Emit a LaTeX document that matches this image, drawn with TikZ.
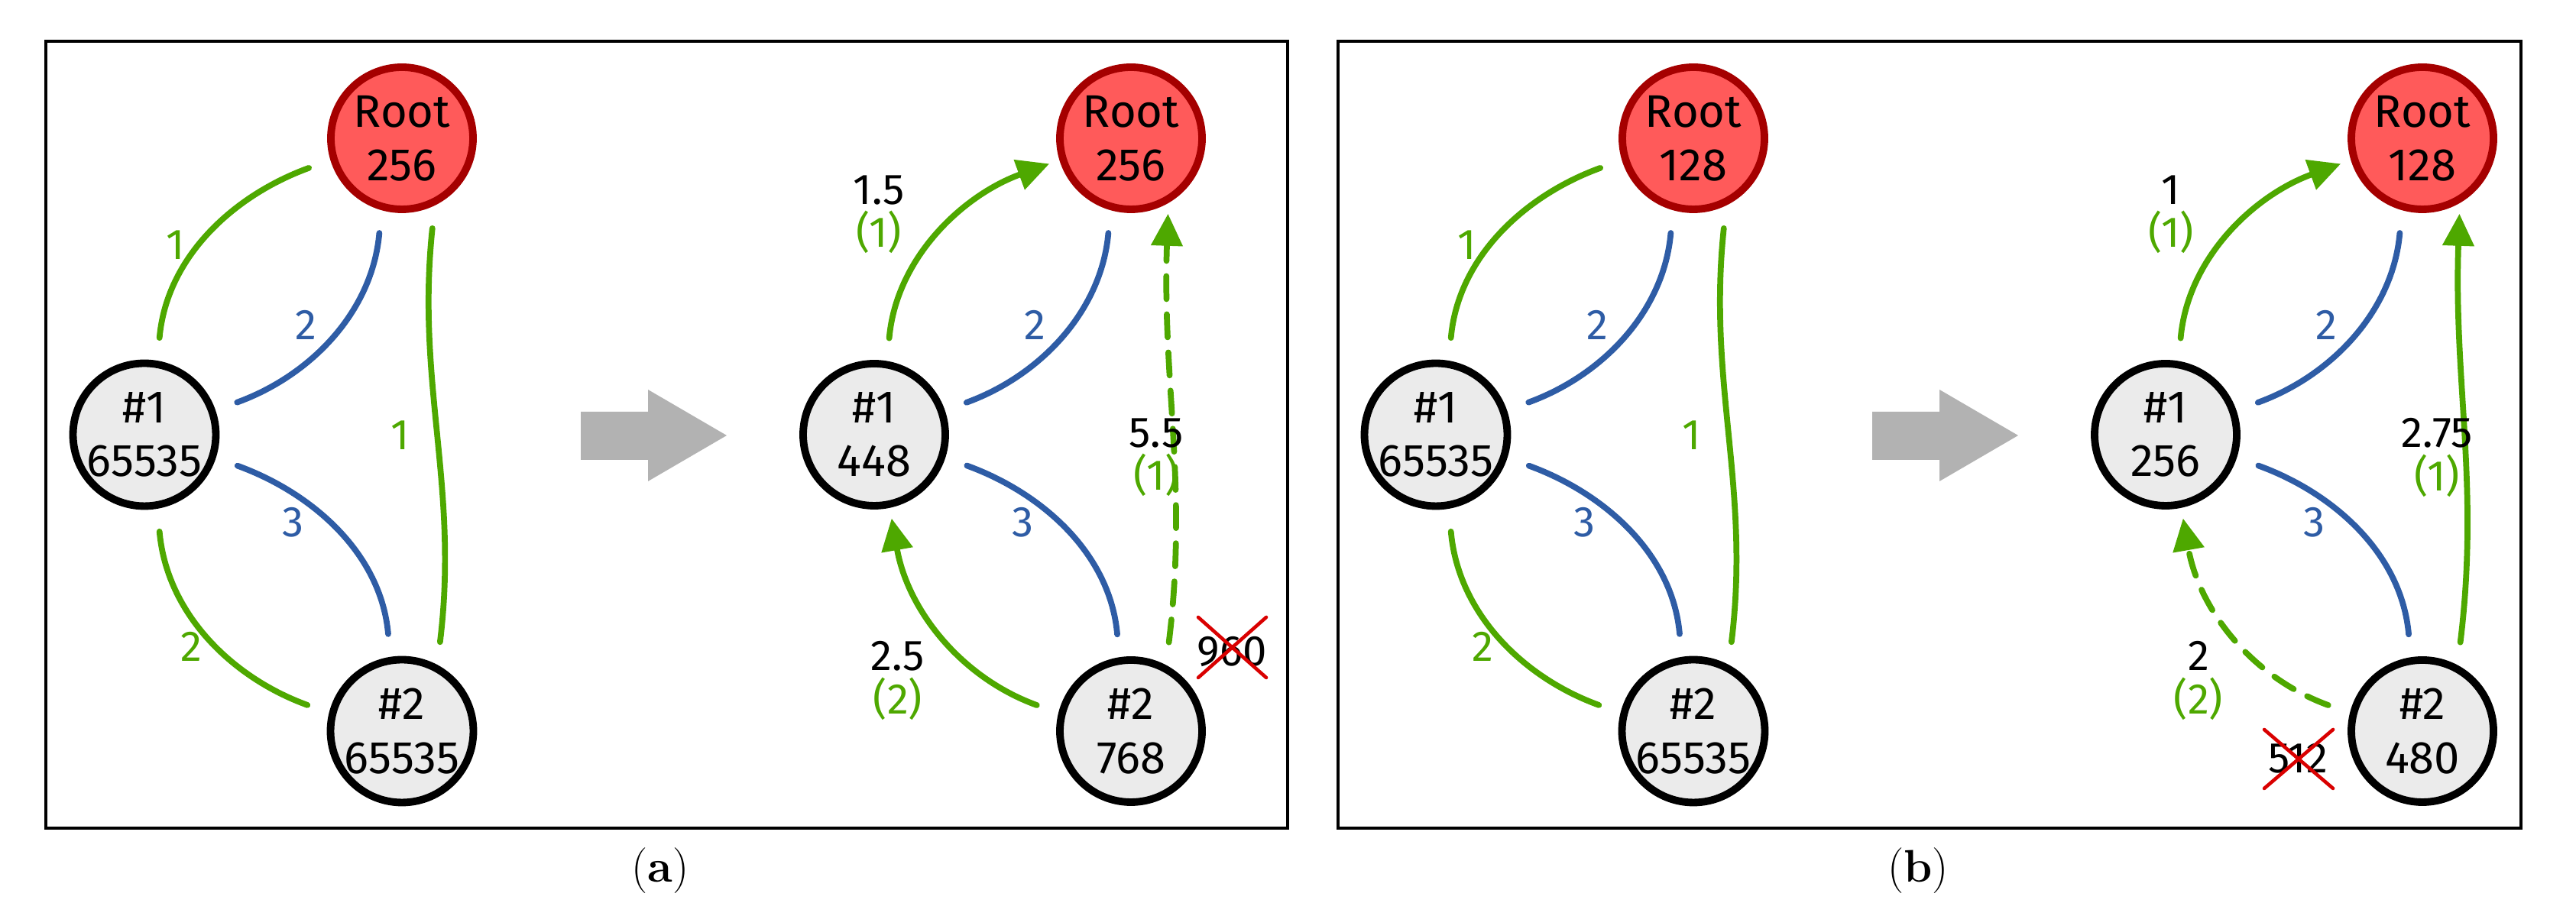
\documentclass[tikz,border=0pt]{standalone}
\usepackage{fontspec}
\setmainfont{Fira Sans}
\newfontfamily\capfont{Latin Modern Roman}
\usetikzlibrary{arrows.meta}
\definecolor{edgegreen}{HTML}{4EA800}
\definecolor{edgeblue}{HTML}{2E5CA5}
\definecolor{rootfill}{HTML}{FF5A5A}
\definecolor{rootdraw}{HTML}{A50000}
\definecolor{nodefill}{HTML}{EBEBEB}
\tikzset{
	peer/.style={circle, draw=black, fill=nodefill, line width=2.8pt, minimum size=1.86cm, inner sep=0pt, align=center, font=\fontsize{17}{20}\selectfont},
	root/.style={peer, draw=rootdraw, fill=rootfill},
	link/.style={line width=2.2pt, line cap=round, shorten <=0.3cm, shorten >=0.3cm},
	glink/.style={link, edgegreen},
	blink/.style={link, edgeblue},
	win/.style={glink, shorten >=0.14cm, -{Triangle[length=0.42cm,width=0.4cm]}},
	probe/.style={dash pattern=on 0.3cm off 0.2cm},
	lab/.style={font=\fontsize{16}{19}\selectfont, align=center},
	cross/.style={red!85!black, line width=1.3pt, line cap=round}
}
\begin{document}
\begin{tikzpicture}
	\useasboundingbox (0,0) rectangle (33.71,11.99);
	% panel (a)
	\draw[line width=1pt] (0.60,1.15) rectangle (16.85,11.45);
	\node[root] (rootA) at (5.26,10.18) {Root\\256};
	\node[peer] (oneA) at (1.89,6.30) {\#1\\65535};
	\node[peer] (twoA) at (5.26,2.42) {\#2\\65535};
	\draw[glink] (oneA.80) to[out=85,in=200] node[lab, text=edgegreen, pos=0.45, left=2pt] {1} (rootA.197);
	\draw[blink] (oneA.19) to[out=20,in=265] node[lab, text=edgeblue, pos=0.55, left=4pt] {2} (rootA.254);
	\draw[blink] (oneA.-18) to[out=-20,in=95] node[lab, text=edgeblue, pos=0.45, left=4pt] {3} (twoA.99);
	\draw[glink] (oneA.-80) to[out=-85,in=160] node[lab, text=edgegreen, pos=0.55, left=2pt] {2} (twoA.166);
	\draw[glink] (twoA.62) to[out=83,in=-96] node[lab, text=edgegreen, pos=0.5, left=6pt] {1} (rootA.-64);
	\fill[black!30] (7.60,5.97) -- (8.48,5.97) -- (8.48,5.69) -- (9.51,6.29) -- (8.48,6.89) -- (8.48,6.60) -- (7.60,6.60) -- cycle;
	\node[root] (rootB) at (14.80,10.18) {Root\\256};
	\node[peer] (oneB) at (11.44,6.30) {\#1\\448};
	\node[peer] (twoB) at (14.80,2.42) {\#2\\768};
	\draw[win] (oneB.80) to[out=85,in=200] (rootB.197);
	\node[lab] (costA) at (11.50,9.18) {1.5\\[-3pt]\textcolor{edgegreen}{(1)}};
	\draw[blink] (oneB.19) to[out=20,in=265] node[lab, text=edgeblue, pos=0.55, left=4pt] {2} (rootB.254);
	\draw[blink] (oneB.-18) to[out=-20,in=95] node[lab, text=edgeblue, pos=0.45, left=4pt] {3} (twoB.99);
	\draw[win] (twoB.166) to[out=160,in=-80] (oneB.-78);
	\node[lab] (costB) at (11.75,3.08) {2.5\\[-3pt]\textcolor{edgegreen}{(2)}};
	\draw[win, probe] (twoB.62) to[out=83,in=-92] (rootB.-60);
	\node[lab] (costC) at (15.13,6.00) {5.5\\[-3pt]\textcolor{edgegreen}{(1)}};
	\node[lab] (oldA) at (16.12,3.46) {960};
	\draw[cross] (15.68,3.91) -- (16.57,3.12) (15.68,3.12) -- (16.57,3.91);
	\node[font=\capfont\fontsize{17}{20}\selectfont] (capA) at (8.64,0.59) {(\textbf{a})};
	% panel (b)
	\draw[line width=1pt] (17.51,1.15) rectangle (32.99,11.45);
	\node[root] (rootC) at (22.16,10.18) {Root\\128};
	\node[peer] (oneC) at (18.79,6.30) {\#1\\65535};
	\node[peer] (twoC) at (22.16,2.42) {\#2\\65535};
	\draw[glink] (oneC.80) to[out=85,in=200] node[lab, text=edgegreen, pos=0.45, left=2pt] {1} (rootC.197);
	\draw[blink] (oneC.19) to[out=20,in=265] node[lab, text=edgeblue, pos=0.55, left=4pt] {2} (rootC.254);
	\draw[blink] (oneC.-18) to[out=-20,in=95] node[lab, text=edgeblue, pos=0.45, left=4pt] {3} (twoC.99);
	\draw[glink] (oneC.-80) to[out=-85,in=160] node[lab, text=edgegreen, pos=0.55, left=2pt] {2} (twoC.166);
	\draw[glink] (twoC.62) to[out=83,in=-96] node[lab, text=edgegreen, pos=0.5, left=6pt] {1} (rootC.-64);
	\fill[black!30] (24.50,5.97) -- (25.38,5.97) -- (25.38,5.69) -- (26.41,6.29) -- (25.38,6.89) -- (25.38,6.60) -- (24.50,6.60) -- cycle;
	\node[root] (rootD) at (31.70,10.18) {Root\\128};
	\node[peer] (oneD) at (28.34,6.30) {\#1\\256};
	\node[peer] (twoD) at (31.70,2.42) {\#2\\480};
	\draw[win] (oneD.80) to[out=85,in=200] (rootD.197);
	\node[lab] (costD) at (28.41,9.18) {1\\[-3pt]\textcolor{edgegreen}{(1)}};
	\draw[blink] (oneD.19) to[out=20,in=265] node[lab, text=edgeblue, pos=0.55, left=4pt] {2} (rootD.254);
	\draw[blink] (oneD.-18) to[out=-20,in=95] node[lab, text=edgeblue, pos=0.45, left=4pt] {3} (twoD.99);
	\draw[win, probe] (twoD.166) to[out=160,in=-80] (oneD.-78);
	\node[lab] (costE) at (28.77,3.08) {2\\[-3pt]\textcolor{edgegreen}{(2)}};
	\draw[win] (twoD.62) to[out=83,in=-92] (rootD.-60);
	\node[lab] (costF) at (31.89,6.00) {2.75\\[-3pt]\textcolor{edgegreen}{(1)}};
	\node[lab] (oldB) at (30.07,2.06) {512};
	\draw[cross] (29.63,2.44) -- (30.53,1.67) (29.63,1.67) -- (30.53,2.44);
	\node[font=\capfont\fontsize{17}{20}\selectfont] (capB) at (25.10,0.59) {(\textbf{b})};
\end{tikzpicture}
\end{document}
